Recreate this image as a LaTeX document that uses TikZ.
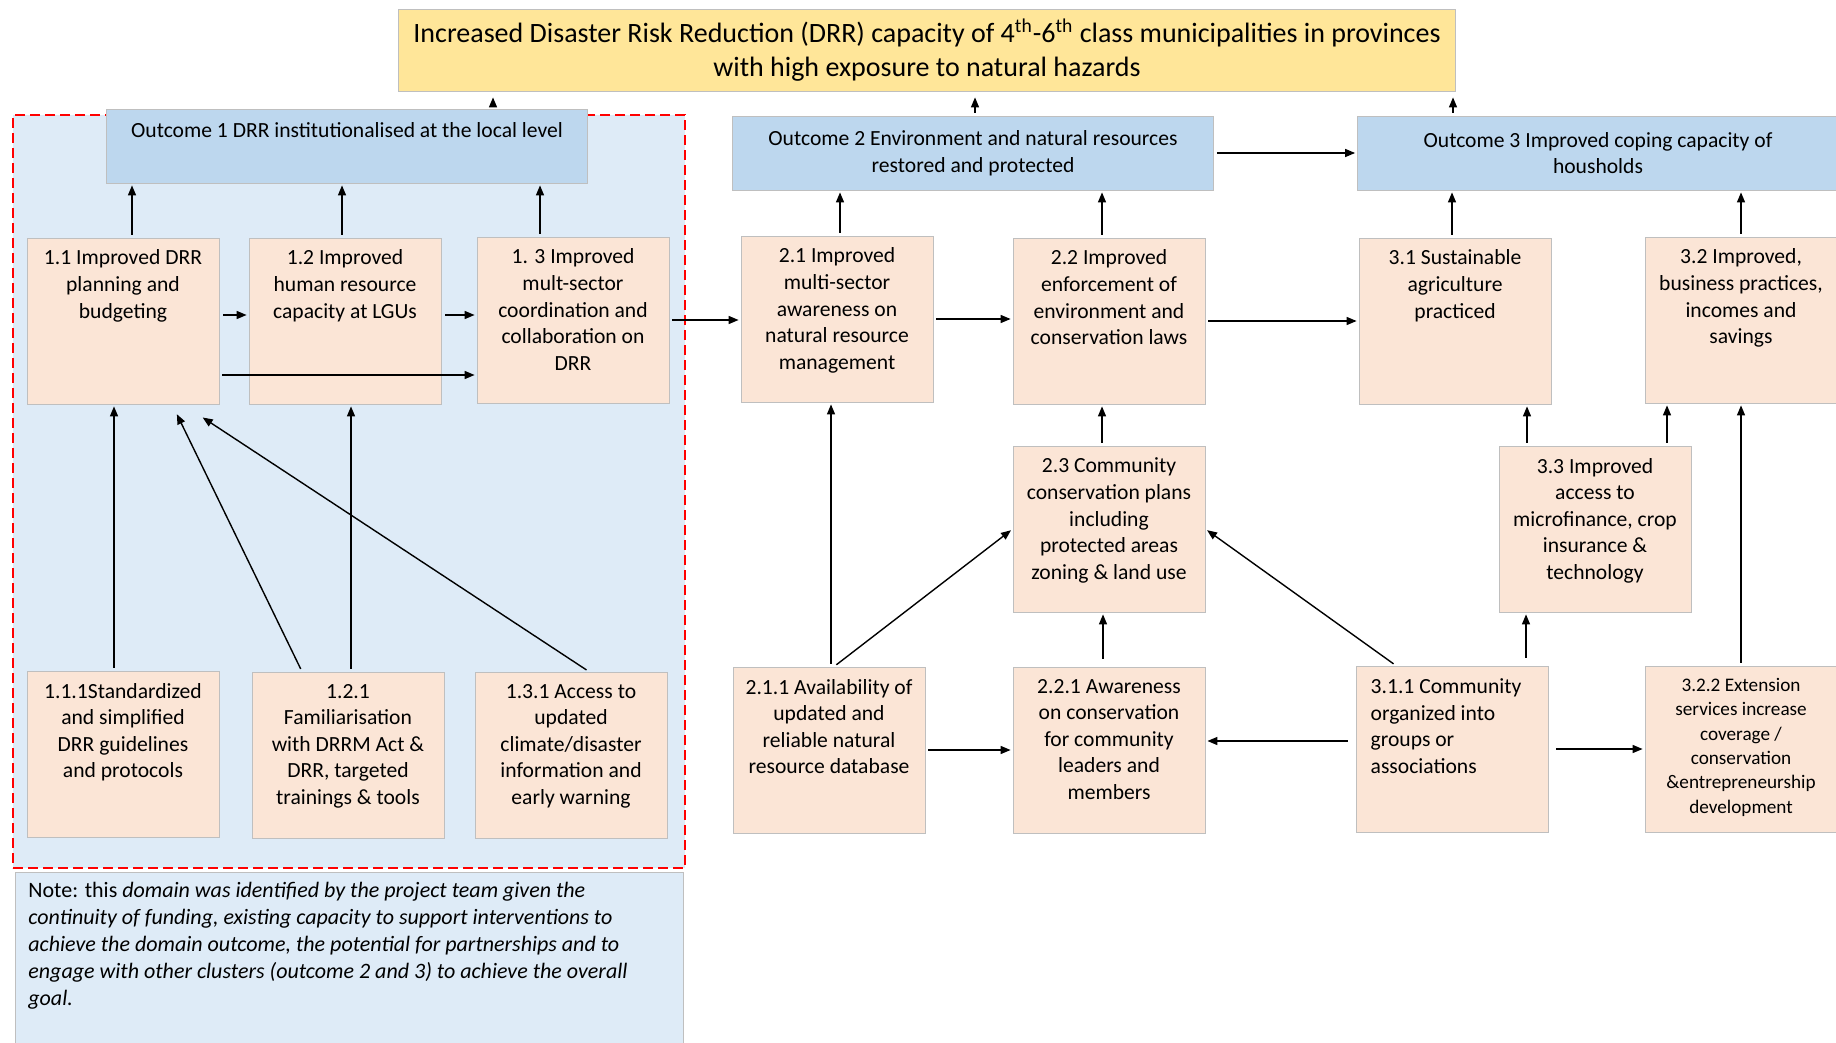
\documentclass[tikz,border=0pt]{standalone}
\usepackage{fontspec}
\setmainfont{Carlito}
\usetikzlibrary{arrows.meta}
\definecolor{goalyellow}{HTML}{FFE699}
\definecolor{outblue}{HTML}{BDD7EE}
\definecolor{domainblue}{HTML}{DEEBF7}
\definecolor{actpeach}{HTML}{FBE5D6}
\definecolor{boxgray}{HTML}{BFBFBF}
\definecolor{dashred}{HTML}{FF0000}

\tikzset{
  goalbox/.style={draw=boxgray,fill=goalyellow,minimum width=528.5pt,minimum height=41pt,
                  align=center,font=\fontsize{14}{17}\selectfont},
  outbox/.style={draw=boxgray,fill=outblue,minimum width=240.5pt,minimum height=37pt,
                 inner ysep=4pt,align=center},
  actbox/.style={draw=boxgray,fill=actpeach,inner xsep=3pt,inner ysep=6pt,
                 execute at begin node={\begin{minipage}[c][71pt][t]{90pt}\centering},
                 execute at end node={\end{minipage}}},
  domainframe/.style={draw=dashred,fill=domainblue,line width=1.3pt,
                      dash pattern=on 5pt off 2.5pt,minimum width=336pt,minimum height=376.5pt},
  notebox/.style={draw=boxgray,fill=domainblue,anchor=north west,inner xsep=6.5pt,inner ysep=5pt,
                  font=\fontsize{11}{13.5}\selectfont,
                  execute at begin node={\begin{minipage}[c][80pt][t]{321pt}\raggedright},
                  execute at end node={\end{minipage}}},
  arr/.style={-{Triangle[length=5pt,width=4pt]},line width=0.7pt,shorten <=1.5pt,shorten >=1pt},
}

\begin{document}
\begin{tikzpicture}[x=0.5pt,y=-0.5pt,font=\fontsize{10.8}{13.3}\selectfont]
\useasboundingbox (0,0) rectangle (1836,1043);
\clip (0,0) rectangle (1836,1043);

% domain of outcome 1 and note
\node[domainframe] (domain) at (349,491.5) {};
\node[notebox] (note) at (15,872) {Note: this \textit{domain was identified by the project team given the\\
  continuity of funding, existing capacity to support interventions to\\
  achieve the domain outcome, the potential for partnerships and to\\
  engage with other clusters (outcome 2 and 3) to achieve the overall\\
  goal.}};

% goal and outcomes
\node[goalbox] (goal) at (927,50) {Increased Disaster Risk Reduction (DRR) capacity of
  4\textsuperscript{th}-6\textsuperscript{th} class municipalities in provinces\\
  with high exposure to natural hazards};
\node[outbox,text height=10pt,text depth=18pt] (out1) at (347,146) {Outcome 1 DRR institutionalised at the local level};
\node[outbox] (out2) at (973,153) {Outcome 2 Environment and natural resources\\ restored and protected};
\node[outbox] (out3) at (1598,153) {Outcome 3 Improved coping capacity of\\ housholds};

% outputs
\node[actbox] (a11) at (123,321) {1.1 Improved DRR\\ planning and\\ budgeting};
\node[actbox] (a12) at (345,321) {1.2 Improved\\ human resource\\ capacity at LGUs};
\node[actbox] (a13) at (573,320) {1. 3 Improved\\ mult-sector\\ coordination and\\ collaboration on\\ DRR};
\node[actbox] (a21) at (837,319) {2.1 Improved\\ multi-sector\\ awareness on\\ natural resource\\ management};
\node[actbox] (a22) at (1109,321) {2.2 Improved\\ enforcement of\\ environment and\\ conservation laws};
\node[actbox] (a31) at (1455,321) {3.1 Sustainable\\ agriculture\\ practiced};
\node[actbox] (a32) at (1741,320) {3.2 Improved,\\ business practices,\\ incomes and\\ savings};
\node[actbox] (a23) at (1109,529) {2.3 Community\\ conservation plans\\ including\\ protected areas\\ zoning \& land use};
\node[actbox] (a33) at (1595,529) {3.3 Improved\\ access to\\ microfinance, crop\\ insurance \&\\ technology};

% activities
\node[actbox] (a111) at (123,754) {1.1.1Standardized\\ and simplified\\ DRR guidelines\\ and protocols};
\node[actbox] (a121) at (348,755) {1.2.1\\ Familiarisation\\ with DRRM Act \&\\ DRR, targeted\\ trainings \& tools};
\node[actbox] (a131) at (571,755) {1.3.1 Access to\\ updated\\ climate/disaster\\ information and\\ early warning};
\node[actbox] (a211) at (829,750) {2.1.1 Availability of\\ updated and\\ reliable natural\\ resource database};
\node[actbox] (a221) at (1109,750) {2.2.1 Awareness\\ on conservation\\ for community\\ leaders and\\ members};
\node[actbox] (a311) at (1452,749) {\vspace*{-1.6pt}\hspace*{-6pt}\begin{tabular}[t]{@{}l@{}}3.1.1 Community\\ organized into\\ groups or\\ associations\end{tabular}};
\node[actbox,font=\fontsize{9.6}{12.2}\selectfont] (a322) at (1741,749) {3.2.2 Extension\\ services increase\\ coverage /\\ conservation\\ \&entrepreneurship\\ development};

% outcomes to goal
\draw[arr,shorten >=3pt] ([xshift=73pt]out1.north) -- ([xshift=73pt]out1.north |- goal.south);
\draw[arr,shorten >=3pt] ([xshift=1pt]out2.north) -- ([xshift=1pt]out2.north |- goal.south);
\draw[arr,shorten >=3pt] ([xshift=-72.5pt]out3.north) -- ([xshift=-72.5pt]out3.north |- goal.south);
\draw[arr] (out2.east) -- (out3.west);

% outputs to outcomes
\draw[arr] ([xshift=4.5pt]a11.north) -- ([xshift=4.5pt]a11.north |- out1.south);
\draw[arr] ([xshift=-1.5pt]a12.north) -- ([xshift=-1.5pt]a12.north |- out1.south);
\draw[arr] ([xshift=-16.5pt]a13.north) -- ([xshift=-16.5pt]a13.north |- out1.south);
\draw[arr] ([xshift=1.5pt]a21.north) -- ([xshift=1.5pt]a21.north |- out2.south);
\draw[arr] ([xshift=-3.5pt]a22.north) -- ([xshift=-3.5pt]a22.north |- out2.south);
\draw[arr] ([xshift=-1.5pt]a31.north) -- ([xshift=-1.5pt]a31.north |- out3.south);
\draw[arr] (a32.north) -- (a32.north |- out3.south);

% links between outputs
\draw[arr,shorten <=2pt] ([yshift=3pt]a11.east) -- ([yshift=3pt]a12.west);
\draw[arr,shorten <=2pt] ([yshift=3pt]a12.east) -- ([yshift=3pt]a12.east -| a13.west);
\draw[arr] ([yshift=-27pt]a11.east) -- ([yshift=-27pt]a11.east -| a13.west);
\draw[arr] (a13.east) -- (a13.east -| a21.west);
\draw[arr] (a21.east) -- (a21.east -| a22.west);
\draw[arr] (a22.east) -- (a22.east -| a31.west);
\draw[arr] ([xshift=-3.5pt]a23.north) -- ([xshift=-3.5pt]a23.north |- a22.south);
\draw[arr] ([xshift=-34pt]a33.north) -- ([xshift=-34pt]a33.north |- a31.south);
\draw[arr] ([xshift=36pt]a33.north) -- ([xshift=36pt]a33.north |- a32.south);

% activities to outputs
\draw[arr] ([xshift=-4.5pt]a111.north) -- ([xshift=-4.5pt]a111.north |- a11.south);
\draw[arr] ([xshift=-23pt]a121.north) -- ([xshift=26.5pt,yshift=-4pt]a11.south);
\draw[arr] ([xshift=9pt]a131.north) -- ([xshift=39pt,yshift=-6pt]a11.south);
\draw[arr] ([xshift=1.5pt]a121.north) -- ([xshift=1.5pt]a121.north |- a12.south);
\draw[arr] ([xshift=1pt]a211.north) -- ([xshift=1pt]a211.north |- a21.south);
\draw[arr] ([xshift=2.5pt]a211.north) -- (a23.west);
\draw[arr,shorten <=4pt] ([xshift=-3pt]a221.north) -- ([xshift=-3pt]a221.north |- a23.south);
\draw[arr] ([xshift=-28pt]a311.north) -- (a23.east);
\draw[arr,shorten <=4pt] ([xshift=37pt]a311.north) -- ([xshift=37pt]a311.north |- a33.south);
\draw[arr] (a322.north) -- (a322.north |- a32.south);

% links between activities
\draw[arr] (a211.east) -- (a211.east -| a221.west);
\draw[arr,shorten <=4pt] ([yshift=4pt]a311.west) -- ([yshift=4pt]a311.west -| a221.east);
\draw[arr,shorten <=4pt] (a311.east) -- (a311.east -| a322.west);
\end{tikzpicture}
\end{document}
